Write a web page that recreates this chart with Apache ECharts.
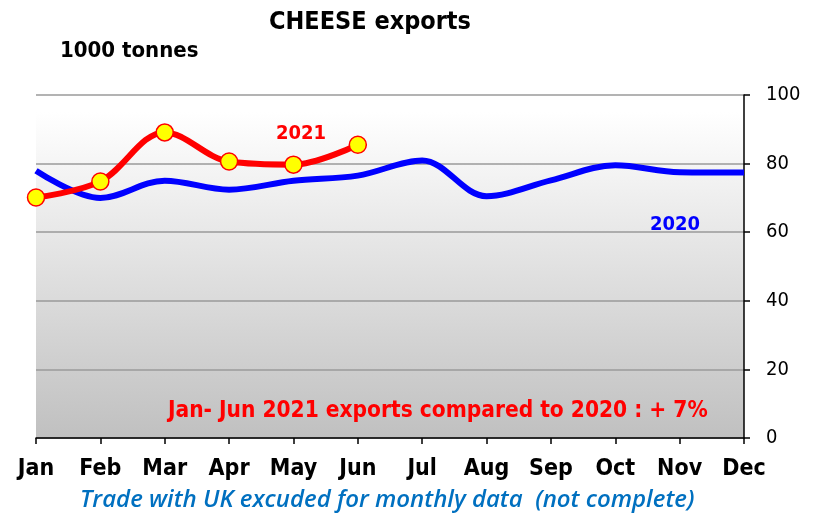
<!DOCTYPE html>
<html>
<head>
<meta charset="utf-8">
<script src="https://cdn.jsdelivr.net/npm/echarts@6/dist/echarts.min.js"></script>
<style>
html,body{margin:0;padding:0;background:#fff;}
#chart{width:819px;height:518px;}
</style>
</head>
<body>
<div id="chart"></div>
<script>
// Monthly cheese exports, 1000 tonnes
const months = ['Jan','Feb','Mar','Apr','May','Jun','Jul','Aug','Sep','Oct','Nov','Dec'];
const exports2020 = [77.9, 70.0, 75.0, 72.4, 75.0, 76.5, 80.9, 70.5, 75.1, 79.5, 77.5, 77.4];
const exports2021 = [70.1, 74.8, 89.1, 80.6, 79.7, 85.5];
const yTicks = [0, 20, 40, 60, 80, 100];

const FONT = '"DejaVu Sans Condensed", "DejaVu Sans", sans-serif';

const chart = echarts.init(document.getElementById('chart'), null, {renderer: 'canvas'});

chart.setOption({
  animation: false,
  backgroundColor: '#ffffff',
  grid: {
    left: 36, right: 75, top: 95, bottom: 80,
    show: true,
    borderWidth: 0,
    backgroundColor: new echarts.graphic.LinearGradient(0, 0, 0, 1, [
      {offset: 0, color: '#ffffff'},
      {offset: 0.05, color: '#ffffff'},
      {offset: 1, color: '#c0c0c0'}
    ])
  },
  xAxis: {
    type: 'category',
    data: months,
    boundaryGap: false,
    axisLine: {lineStyle: {color: '#000', width: 1.5}},
    axisTick: {show: true, alignWithLabel: true, length: 6, lineStyle: {color: '#000', width: 1.5}},
    axisLabel: {fontFamily: FONT, fontWeight: 'bold', fontSize: 23, color: '#000', margin: 20, interval: 0},
    splitLine: {show: false}
  },
  yAxis: {
    type: 'value',
    position: 'right',
    min: 0, max: 100, interval: 20,
    axisLine: {show: true, lineStyle: {color: '#000', width: 1.5}},
    axisTick: {show: true, length: 6, lineStyle: {color: '#000', width: 1.5}},
    axisLabel: {
      fontFamily: FONT, fontSize: 20, color: '#000', margin: 22,
      formatter: v => yTicks.includes(v) ? String(v) : ''
    },
    splitLine: {show: true, lineStyle: {color: '#9a9a9a', width: 1.5}}
  },
  series: [
    {
      name: '2020',
      type: 'line',
      data: exports2020,
      smooth: 0.35,
      symbol: 'none',
      lineStyle: {color: '#0000ff', width: 6},
      z: 2
    },
    {
      name: '2021',
      type: 'line',
      data: exports2021,
      smooth: 0.35,
      symbol: 'circle',
      symbolSize: 17,
      itemStyle: {color: '#ffff00', borderColor: '#ff0000', borderWidth: 1.5},
      lineStyle: {color: '#ff0000', width: 6},
      z: 3
    }
  ],
  graphic: [
    {type: 'text', x: 370, y: 10,
     style: {text: 'CHEESE exports', align: 'center', fontFamily: FONT, fontWeight: 'bold', fontSize: 25, fill: '#000'}},
    {type: 'text', x: 60, y: 40,
     style: {text: '1000 tonnes', fontFamily: FONT, fontWeight: 'bold', fontSize: 22, fill: '#000'}},
    {type: 'text', x: 276, y: 124,
     style: {text: '2021', fontFamily: FONT, fontWeight: 'bold', fontSize: 20, fill: '#ff0000'}},
    {type: 'text', x: 650, y: 215,
     style: {text: '2020', fontFamily: FONT, fontWeight: 'bold', fontSize: 20, fill: '#0000ff'}},
    {type: 'text', x: 168, y: 400,
     style: {text: 'Jan- Jun 2021 exports compared to 2020 : + 7%', fontFamily: FONT, fontWeight: 'bold', fontSize: 22.5, fill: '#ff0000'}},
    {type: 'text', x: 80, y: 488,
     style: {text: 'Trade with UK excuded for monthly data  (not complete)', fontFamily: '"Open Sans", sans-serif', fontWeight: 600, fontStyle: 'italic', fontSize: 24, fill: '#0070c0'}}
  ]
});
</script>
</body>
</html>
